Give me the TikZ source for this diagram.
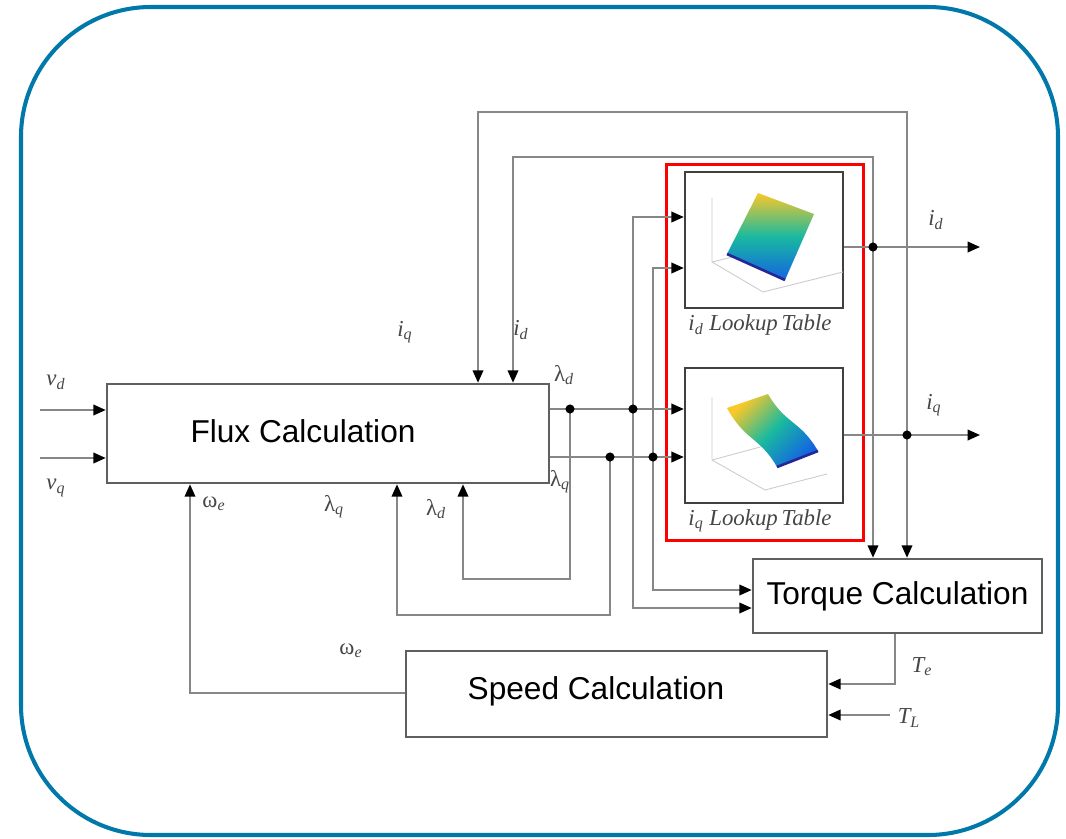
\documentclass[tikz,border=0pt]{standalone}
\usepackage{fontspec}
\setmainfont{Liberation Sans}
\newfontfamily\tms{Liberation Serif}
\usetikzlibrary{arrows.meta, calc}

\definecolor{framecol}{RGB}{0,120,170}
\definecolor{wirecol}{RGB}{135,135,135}
\definecolor{boxcol}{RGB}{95,95,95}
\definecolor{labcol}{RGB}{70,70,70}
\definecolor{parY}{RGB}{250,200,40}
\definecolor{parG}{RGB}{25,185,160}
\definecolor{parB}{RGB}{20,100,225}
\definecolor{parD}{RGB}{35,40,150}

\begin{document}
\begin{tikzpicture}[x=0.02cm, y=-0.02cm,
    block/.style={draw=boxcol, line width=1.5pt, fill=white, inner sep=0pt},
    lut/.style={draw=black!75, line width=1.4pt, inner sep=0pt, minimum width=3.16cm, minimum height=2.72cm},
    wire/.style={draw=wirecol, line width=1pt},
    sig/.style={wire, -{Triangle[length=7pt, width=6pt, color=black, fill=black]}},
    lab/.style={text=labcol, font=\tms\itshape\fontsize{13}{15}\selectfont, inner sep=1pt},
    big/.style={font=\fontsize{18}{21}\selectfont},
    axisln/.style={draw=black!20, line width=0.5pt},
    surf/.style={top color=parY, bottom color=parB, middle color=parG}]

    \useasboundingbox (0,0) rectangle (1066,839);
    \draw[framecol, line width=2.3pt, rounded corners=2.6cm] (21,7) rectangle (1058,835);

    \node[block, minimum width=8.84cm, minimum height=1.98cm] (flux) at (328,433.5) {};
    \node[big] (fluxtxt) at (303,431) {Flux Calculation};
    \node[block, minimum width=5.78cm, minimum height=1.48cm, big] (torque) at (897.5,596) {Torque Calculation};
    \node[block, minimum width=8.42cm, minimum height=1.72cm] (speed) at (616.5,694) {};
    \node[big] (speedtxt) at (596,691) {Speed Calculation};

    \node[lut] (idlut) at (764,240) {};
    \node[lut, minimum height=2.70cm] (iqlut) at (764,435.5) {};
    \node[lab] (idname) at (760,325) {i\textsubscript{d} Lookup\,Table};
    \node[lab] (iqname) at (760,521) {i\textsubscript{q} Lookup\,Table};
    \node[draw=red, line width=1.7pt, minimum width=3.96cm, minimum height=7.54cm] (lutgroup) at (765,352.5) {};

    % id surface
    \draw[axisln] (712,198) -- (712,262) -- (763,292) -- (843,272);
    \draw[axisln] (712,262) -- (790,243);
    \shade[surf] (758,193) -- (814,214) -- (785,280) -- (727,254) -- cycle;
    \draw[parD, line width=1.5pt] (727,254) -- (785,280);
    % iq surface
    \draw[axisln] (712,397) -- (712,460) -- (765,490) -- (827,474);
    \draw[axisln] (712,460) -- (775,443);
    \shade[surf, shading angle=45]
        (727,408) -- (768,394) .. controls (786,425) and (800,420) .. (818,451)
        -- (777,467) .. controls (760,437) and (745,441) .. cycle;
    \draw[parD, line width=1.5pt] (777,467) -- (818,451);

    \coordinate (vd) at (40,410);
    \coordinate (vq) at (40,458);
    \draw[sig] (vd) -- (vd -| flux.west);
    \draw[sig] (vq) -- (vq -| flux.west);

    \coordinate (ld1) at (570,409);
    \coordinate (ld2) at (633,409);
    \coordinate (lq1) at (610,457);
    \coordinate (lq2) at (653,457);
    \coordinate (id1) at (873,247);
    \coordinate (iq1) at (907,435);

    \draw[sig] (flux.east |- ld1) -- (iqlut.west |- ld1);
    \draw[sig] (flux.east |- lq1) -- (iqlut.west |- lq1);

    \coordinate (ldback) at (463,579);
    \coordinate (lqback) at (397,615);
    \draw[sig] (ld1) |- (ldback) -- (ldback |- flux.south);
    \draw[sig] (lq1) |- (lqback) -- (lqback |- flux.south);

    \coordinate (inA) at ($(idlut.west)+(0,-23)$);
    \coordinate (inB) at ($(idlut.west)+(0,28)$);
    \draw[sig] (ld2) |- (inA);
    \draw[sig] (lq2) |- (inB);
    \coordinate (tqA) at ($(torque.west)+(0,12)$);
    \coordinate (tqB) at ($(torque.west)+(0,-6)$);
    \draw[sig] (ld2) |- (tqA);
    \draw[sig] (lq2) |- (tqB);

    \coordinate (idout) at (980,247);
    \coordinate (iqout) at (980,435);
    \draw[sig] (idlut.east |- id1) -- (idout);
    \draw[sig] (iqlut.east |- iq1) -- (iqout);

    \coordinate (idtop) at (873,157);
    \coordinate (iqtop) at (907,112);
    \draw[sig] (id1) -- (idtop) -| ($(flux.north)+(185,0)$);
    \draw[sig] (iq1) -- (iqtop) -| ($(flux.north)+(150,0)$);
    \draw[sig] (id1) -- (id1 |- torque.north);
    \draw[sig] (iq1) -- (iq1 |- torque.north);

    \coordinate (tebend) at (895,684);
    \coordinate (tl) at (890,715);
    \draw[sig] (torque.south -| tebend) -- (tebend) -- (tebend -| speed.east);
    \draw[sig] (tl) -- (tl -| speed.east);

    \coordinate (wbend) at (190,693);
    \draw[sig] (speed.west |- wbend) -- (wbend) -- (wbend |- flux.south);

    \foreach \t in {ld1,ld2,lq1,lq2,id1,iq1}
        \fill (\t) circle (2.6pt);

    \node[lab] at (56,382) {v\textsubscript{d}};
    \node[lab] at (56,488) {v\textsubscript{q}};
    \node[lab] at (405,332) {i\textsubscript{q}};
    \node[lab] at (521,330) {i\textsubscript{d}};
    \node[lab] at (564,375) {{\upshape λ}\textsubscript{d}};
    \node[lab] at (560,482) {{\upshape λ}\textsubscript{q}};
    \node[lab] at (214,504) {{\upshape ω}\textsubscript{e}};
    \node[lab] at (334,507) {{\upshape λ}\textsubscript{q}};
    \node[lab] at (436,509) {{\upshape λ}\textsubscript{d}};
    \node[lab] at (936,220) {i\textsubscript{d}};
    \node[lab] at (934,405) {i\textsubscript{q}};
    \node[lab] at (922,667) {T\textsubscript{e}};
    \node[lab] at (909,718) {T\textsubscript{L}};
    \node[lab] at (351,651) {{\upshape ω}\textsubscript{e}};
\end{tikzpicture}
\end{document}
